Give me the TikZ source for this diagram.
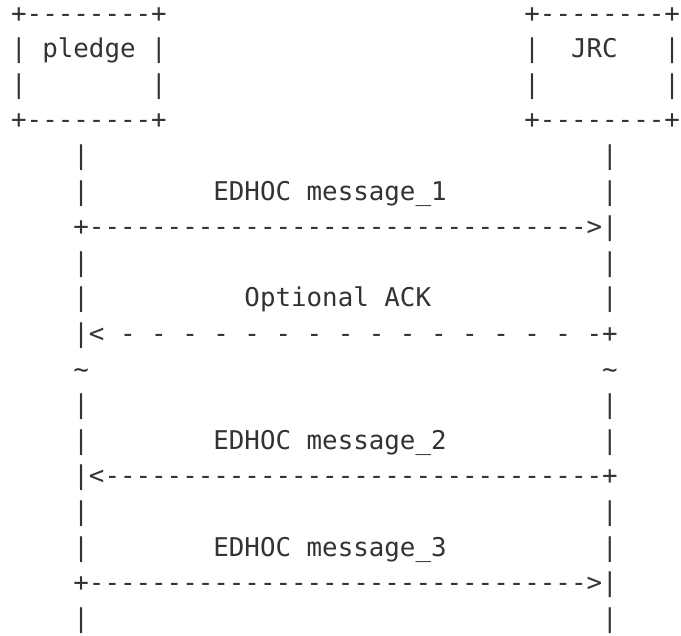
\documentclass[tikz,border=0pt]{standalone}
\usepackage{fontspec}
\setmonofont{DejaVu Sans Mono}
\definecolor{ink}{HTML}{333333}
\tikzset{
  asc/.style={anchor=base west, inner sep=0pt, outer sep=0pt, text=ink,
    font=\ttfamily\fontsize{25.83pt}{35.6pt}\selectfont}
}
% #1 name, #2 row, #3 column, #4 text
\newcommand\asctext[4]{\node[asc] (#1) at (#3+0.72, #2-0.382) {#4};}
\begin{document}
\begin{tikzpicture}[x=15.55pt, y=-35.6pt]
\useasboundingbox (0,0) rectangle (43.79,17.84);
% boxes
\asctext{pTop}{1}{0}{+--------+}
\asctext{jTop}{1}{33}{+--------+}
\asctext{pName}{2}{0}{| pledge |}
\asctext{jL2}{2}{33}{|}
\asctext{jName}{2}{36}{JRC}
\asctext{jR2}{2}{42}{|}
\asctext{pL3}{3}{0}{|}
\asctext{pR3}{3}{9}{|}
\asctext{jL3}{3}{33}{|}
\asctext{jR3}{3}{42}{|}
\asctext{pBot}{4}{0}{+--------+}
\asctext{jBot}{4}{33}{+--------+}
% lifelines and messages
\asctext{a5}{5}{4}{|}
\asctext{b5}{5}{38}{|}
\asctext{a6}{6}{4}{|}
\asctext{m1}{6}{13}{EDHOC message\_1}
\asctext{b6}{6}{38}{|}
\asctext{arr1}{7}{4}{+-------------------------------->|}
\asctext{a8}{8}{4}{|}
\asctext{b8}{8}{38}{|}
\asctext{a9}{9}{4}{|}
\asctext{ack}{9}{15}{Optional ACK}
\asctext{b9}{9}{38}{|}
\asctext{arrack}{10}{4}{|< - - - - - - - - - - - - - - - -+}
\asctext{a11}{11}{4}{\textasciitilde}
\asctext{b11}{11}{38}{\textasciitilde}
\asctext{a12}{12}{4}{|}
\asctext{b12}{12}{38}{|}
\asctext{a13}{13}{4}{|}
\asctext{m2}{13}{13}{EDHOC message\_2}
\asctext{b13}{13}{38}{|}
\asctext{arr2}{14}{4}{|<--------------------------------+}
\asctext{a15}{15}{4}{|}
\asctext{b15}{15}{38}{|}
\asctext{a16}{16}{4}{|}
\asctext{m3}{16}{13}{EDHOC message\_3}
\asctext{b16}{16}{38}{|}
\asctext{arr3}{17}{4}{+-------------------------------->|}
\asctext{a18}{18}{4}{|}
\asctext{b18}{18}{38}{|}
\end{tikzpicture}
\end{document}
